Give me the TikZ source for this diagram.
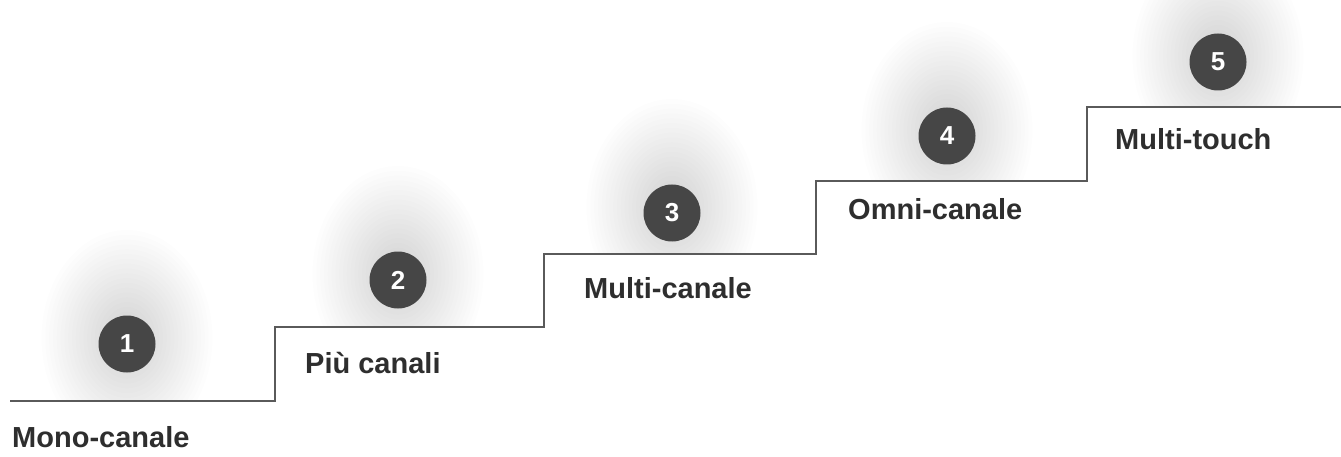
\documentclass[tikz,border=0pt]{standalone}
\usepackage{fontspec}
\setmainfont{Liberation Sans}
\definecolor{stepline}{HTML}{5A5A5A}
\definecolor{badge}{HTML}{464646}
\definecolor{labeltext}{HTML}{2E2E2E}
\begin{document}
\begin{tikzpicture}[x=1pt,y=-1pt,
  badgenode/.style={circle,fill=badge,minimum size=57pt,inner sep=0pt,text=white,font=\bfseries\fontsize{26}{30}\selectfont},
  steplabel/.style={anchor=base west,inner sep=0pt,text=labeltext,font=\bfseries\fontsize{29}{34}\selectfont},
  stepstroke/.style={draw=stepline,line width=2pt}]
\fill[white] (0,0) rectangle (1341,457);
\useasboundingbox (0,0) rectangle (1341,457);
% glows
\foreach \cx/\cy/\ly in {127/344/401,398/280/327,672/213/254,947/136/181,1218/62/107}{
  \begin{scope}
    \clip (\cx-170,\ly) rectangle (\cx+170,\ly-260);
    \foreach \r in {6,10,...,90}{
      \fill[black,opacity=0.007] (\cx,\cy-6) ellipse ({\r*0.95} and {\r*1.2});
    }
  \end{scope}
}
% staircase
\coordinate (s0) at (10,401);
\coordinate (s1) at (275,401);
\coordinate (s2) at (275,327);
\coordinate (s3) at (544,327);
\coordinate (s4) at (544,254);
\coordinate (s5) at (816,254);
\coordinate (s6) at (816,181);
\coordinate (s7) at (1087,181);
\coordinate (s8) at (1087,107);
\coordinate (s9) at (1341,107);
\draw[stepstroke] (s0) -- (s1) -- (s2) -- (s3) -- (s4) -- (s5) -- (s6) -- (s7) -- (s8) -- (s9);
% badges
\node[badgenode] (c1) at (127,344) {1};
\node[badgenode] (c2) at (398,280) {2};
\node[badgenode] (c3) at (672,213) {3};
\node[badgenode] (c4) at (947,136) {4};
\node[badgenode] (c5) at (1218,62) {5};
% labels
\node[steplabel] (l1) at (12,447) {Mono-canale};
\node[steplabel] (l2) at (305,373) {Più canali};
\node[steplabel] (l3) at (584,298) {Multi-canale};
\node[steplabel] (l4) at (848,220) {Omni-canale};
\node[steplabel] (l5) at (1115,150) {Multi-touch};
\end{tikzpicture}
\end{document}
